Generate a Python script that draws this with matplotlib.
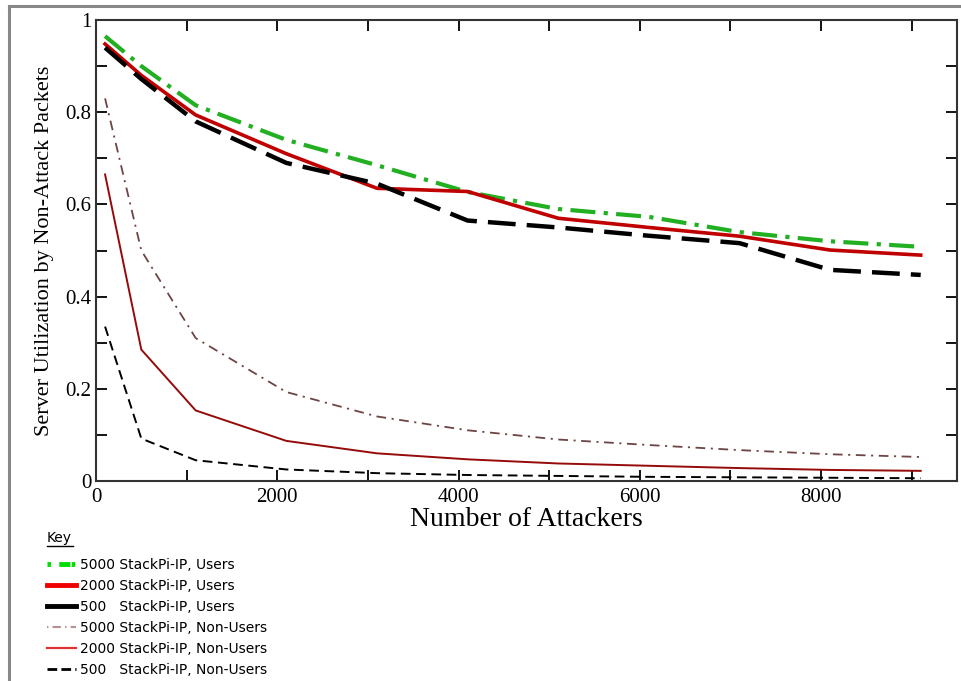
import matplotlib
matplotlib.use("Agg")
import matplotlib.pyplot as plt
from matplotlib.lines import Line2D
from matplotlib.ticker import MultipleLocator, FuncFormatter

plt.rcParams['lines.scale_dashes'] = False

# number of attackers
attackers = [100, 500, 1100, 2100, 3100, 4100, 5100, 6100, 7100, 8100, 9100]

# users (legitimate traffic marked by StackPi-IP)
users_5000 = [0.965, 0.90, 0.815, 0.74, 0.685, 0.627, 0.59, 0.573, 0.54, 0.52, 0.508]
users_2000 = [0.948, 0.88, 0.794, 0.71, 0.635, 0.628, 0.57, 0.55, 0.531, 0.501, 0.49]
users_500 = [0.94, 0.872, 0.78, 0.69, 0.645, 0.565, 0.55, 0.532, 0.516, 0.458, 0.447]

# non-users
nonusers_5000 = [0.83, 0.50, 0.31, 0.193, 0.14, 0.11, 0.09, 0.078, 0.067, 0.058, 0.052]
nonusers_2000 = [0.665, 0.285, 0.153, 0.087, 0.06, 0.047, 0.038, 0.033, 0.028, 0.024, 0.022]
nonusers_500 = [0.335, 0.092, 0.045, 0.025, 0.017, 0.013, 0.011, 0.009, 0.008, 0.007, 0.006]

labels = ["5000 StackPi-IP, Users", "2000 StackPi-IP, Users", "500   StackPi-IP, Users",
          "5000 StackPi-IP, Non-Users", "2000 StackPi-IP, Non-Users", "500   StackPi-IP, Non-Users"]

fig = plt.figure(figsize=(9.61, 6.81), dpi=100)
ax = fig.add_axes([0.0999, 0.2937, 0.8959, 0.6769])

serif = ['Liberation Serif', 'DejaVu Serif']

ax.plot(attackers, users_5000, color='#22b022', lw=3.0, dashes=(18, 6, 3, 6))
ax.plot(attackers, users_2000, color='#c00000', lw=2.6)
ax.plot(attackers, users_500, color='black', lw=3.2, dashes=(20, 8))
ax.plot(attackers, nonusers_5000, color='#6e4444', lw=1.3, dashes=(7, 4, 1.5, 4))
ax.plot(attackers, nonusers_2000, color='#960a0a', lw=1.4)
ax.plot(attackers, nonusers_500, color='black', lw=1.4, dashes=(7, 4))

ax.set_xlim(0, 9500)
ax.set_ylim(0, 1)
ax.xaxis.set_major_locator(MultipleLocator(2000))
ax.xaxis.set_minor_locator(MultipleLocator(1000))
ax.yaxis.set_major_locator(MultipleLocator(0.2))
ax.yaxis.set_minor_locator(MultipleLocator(0.1))
ax.yaxis.set_major_formatter(FuncFormatter(lambda v, p: '%g' % round(v, 1)))
ax.tick_params(which='both', direction='in', top=True, right=True, width=1.3)
ax.tick_params(which='major', length=8, labelsize=15)
ax.tick_params(which='minor', length=8)
ax.tick_params(axis='x', pad=5)
for lab in ax.get_xticklabels() + ax.get_yticklabels():
    lab.set_family(serif)
for s in ax.spines.values():
    s.set_linewidth(1.5)
    s.set_color('#333333')

ax.set_xlabel("Number of Attackers", fontsize=20, family=serif, labelpad=0)
ax.set_ylabel("Server Utilization by Non-Attack Packets", fontsize=16, family=serif, labelpad=8)

# legend ("Key") under the plot
fig.text(47 / 961, 1 - 538 / 681, "Key", fontsize=10, family='DejaVu Sans', va='center')
fig.add_artist(Line2D([47 / 961, 73 / 961], [1 - 546 / 681, 1 - 546 / 681],
                      color='black', lw=1.0))

handles = [
    Line2D([], [], color='#00dd00', lw=3.5, dashes=(2.5, 6, 8, 1)),
    Line2D([], [], color='#ee0000', lw=3.5),
    Line2D([], [], color='black', lw=3.5),
    Line2D([], [], color='#b89090', lw=1.5, dashes=(1, 3, 6, 3)),
    Line2D([], [], color='#dd3333', lw=1.6),
    Line2D([], [], color='black', lw=2.0, dashes=(7, 3)),
]
fig.legend(handles, labels, loc='upper left', bbox_to_anchor=(40 / 961, 1 - 551 / 681),
           frameon=False, prop={'family': 'DejaVu Sans', 'size': 10},
           handlelength=2.1, handletextpad=0.25, labelspacing=0.5, borderpad=0)

# grey frame of the original figure
fig.add_artist(Line2D([9 / 961, 1], [1 - 6 / 681, 1 - 6 / 681], color='#888888', lw=2.2))
fig.add_artist(Line2D([9 / 961, 9 / 961], [0, 1 - 6 / 681], color='#888888', lw=2.2))

fig.savefig("out.png", dpi=100)
